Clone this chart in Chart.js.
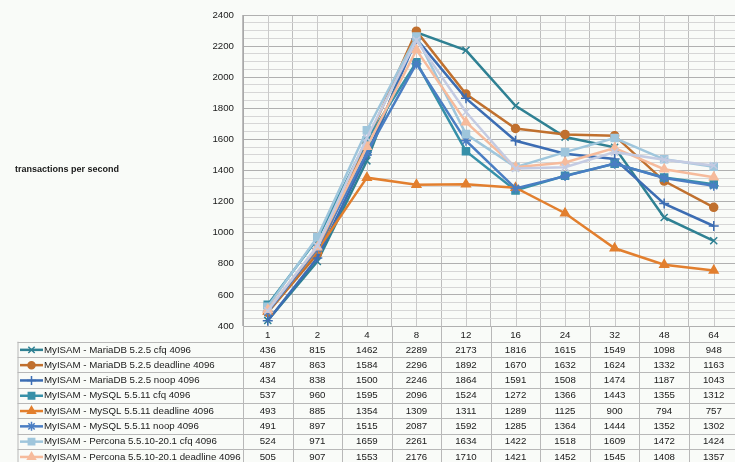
<!DOCTYPE html>
<html>
<head>
<meta charset="utf-8">
<script src="https://cdn.jsdelivr.net/npm/chart.js@4"></script>
<style>
html, body { margin: 0; padding: 0; overflow: hidden; background: #f9fbf8; }
canvas { display: block; }
</style>
</head>
<body>
<canvas id="myChart" width="745" height="462"></canvas>
<script>
var categories = ['1', '2', '4', '8', '12', '16', '24', '32', '48', '64'];

var mariaCfq = [436, 815, 1462, 2289, 2173, 1816, 1615, 1549, 1098, 948];
var mariaDeadline = [487, 863, 1584, 2296, 1892, 1670, 1632, 1624, 1332, 1163];
var mariaNoop = [434, 838, 1500, 2246, 1864, 1591, 1508, 1474, 1187, 1043];
var mysqlCfq = [537, 960, 1595, 2096, 1524, 1272, 1366, 1443, 1355, 1312];
var mysqlDeadline = [493, 885, 1354, 1309, 1311, 1289, 1125, 900, 794, 757];
var mysqlNoop = [491, 897, 1515, 2087, 1592, 1285, 1364, 1444, 1352, 1302];
var perconaCfq = [524, 971, 1659, 2261, 1634, 1422, 1518, 1609, 1472, 1424];
var perconaDeadline = [505, 907, 1553, 2176, 1710, 1421, 1452, 1545, 1408, 1357];
// 9th row of the table is cut off in the picture, values estimated from the plot
var perconaNoop = [498, 915, 1610, 2238, 1776, 1413, 1421, 1518, 1469, 1432];

var seriesNames = [
    'MyISAM - MariaDB 5.2.5 cfq 4096',
    'MyISAM - MariaDB 5.2.5 deadline 4096',
    'MyISAM - MariaDB 5.2.5 noop 4096',
    'MyISAM - MySQL 5.5.11 cfq 4096',
    'MyISAM - MySQL 5.5.11 deadline 4096',
    'MyISAM - MySQL 5.5.11 noop 4096',
    'MyISAM - Percona 5.5.10-20.1 cfq 4096',
    'MyISAM - Percona 5.5.10-20.1 deadline 4096',
    'MyISAM - Percona 5.5.10-20.1 noop 4096'
];
var seriesValues = [mariaCfq, mariaDeadline, mariaNoop, mysqlCfq, mysqlDeadline, mysqlNoop, perconaCfq, perconaDeadline, perconaNoop];
var seriesColors = ['#2f8193', '#c0702e', '#3c6db3', '#3690a8', '#e27f2e', '#4a7ec3', '#9fc6dc', '#f6bb9c', '#c4cbe2'];
var seriesMarkers = ['crossRot', 'circle', 'cross', 'rect', 'triangle', 'star', 'rect', 'triangle', 'crossRot'];

var yTicks = [400, 600, 800, 1000, 1200, 1400, 1600, 1800, 2000, 2200, 2400];

var FONT = '"Liberation Sans", Arial, sans-serif';

function markerRadius(style) {
    if (style === 'circle') return 4;
    return 5;
}

var datasets = [];
for (var i = 0; i < seriesNames.length; i++) {
    datasets.push({
        label: seriesNames[i],
        data: seriesValues[i],
        borderColor: seriesColors[i],
        backgroundColor: seriesColors[i],
        pointBackgroundColor: seriesColors[i],
        pointBorderColor: seriesColors[i],
        pointStyle: seriesMarkers[i],
        pointRadius: markerRadius(seriesMarkers[i]),
        pointBorderWidth: 1.5,
        borderWidth: 2.5,
        tension: 0,
        fill: false,
        order: -i   // later series on top, like excel
    });
}

// thin lines at category centres + axis title + data table under the plot
var tablePlugin = {
    id: 'tablePlugin',
    beforeDatasetsDraw: function (chart) {
        var c = chart.ctx, a = chart.chartArea, x = chart.scales.x;
        c.save();
        c.strokeStyle = '#cacaca';
        c.lineWidth = 1;
        for (var i = 0; i < categories.length; i++) {
            var px = Math.round(x.getPixelForValue(i)) + 0.5;
            c.beginPath();
            c.moveTo(px, a.top);
            c.lineTo(px, a.bottom);
            c.stroke();
        }
        c.restore();
    },
    afterDraw: function (chart) {
        var c = chart.ctx, a = chart.chartArea, x = chart.scales.x;
        var colW = (a.right - a.left) / categories.length;
        var top = 341.7, rowH = 15.3, left = 17.5;
        var nRows = seriesNames.length;
        c.save();

        // axis title
        c.fillStyle = '#1a1a1a';
        c.font = 'bold 9px ' + FONT;
        c.textAlign = 'left';
        c.textBaseline = 'middle';
        c.fillText('transactions per second', 15, 170);

        // grid of the table
        c.lineWidth = 1;
        c.strokeStyle = '#b8b8b8';
        for (var r = 0; r <= nRows; r++) {
            var py = Math.round(top + r * rowH) + 0.5;
            c.beginPath();
            c.moveTo(left, py);
            c.lineTo(a.right, py);
            c.stroke();
        }
        c.beginPath();
        c.moveTo(left + 0.5, top);
        c.lineTo(left + 0.5, top + nRows * rowH);
        c.stroke();
        for (var k = 0; k <= categories.length; k++) {
            var bx = Math.round(a.left + k * colW) + 0.5;
            c.beginPath();
            c.moveTo(bx, a.bottom);
            c.lineTo(bx, top + nRows * rowH);
            c.stroke();
        }

        // rows
        c.font = '9.7px ' + FONT;
        for (var s = 0; s < nRows; s++) {
            var cy = top + (s + 0.5) * rowH + 0.5;
            c.strokeStyle = seriesColors[s];
            c.fillStyle = seriesColors[s];
            c.lineWidth = 2.5;
            c.beginPath();
            c.moveTo(20, cy);
            c.lineTo(43, cy);
            c.stroke();
            c.lineWidth = 1.5;
            Chart.helpers.drawPoint(c, {
                pointStyle: seriesMarkers[s],
                radius: markerRadius(seriesMarkers[s]) - 0.5,
                rotation: 0,
                borderWidth: 1.5
            }, 31.5, cy);

            c.fillStyle = '#1a1a1a';
            c.textAlign = 'left';
            c.fillText(seriesNames[s], 44, cy);
            c.textAlign = 'center';
            for (var j = 0; j < categories.length; j++) {
                c.fillText(String(seriesValues[s][j]), x.getPixelForValue(j), cy);
            }
        }
        c.restore();
    }
};

var ctx = document.getElementById('myChart').getContext('2d');
var myChart = new Chart(ctx, {
    type: 'line',
    data: {
        labels: categories,
        datasets: datasets
    },
    plugins: [tablePlugin],
    options: {
        responsive: false,
        animation: false,
        layout: { padding: { top: 15, right: 2, left: 0, bottom: 0 } },
        plugins: {
            legend: { display: false },
            tooltip: { enabled: false }
        },
        scales: {
            x: {
                offset: true,
                afterFit: function (scale) { scale.height = 136; },
                grid: {
                    offset: true,
                    color: '#bdbdbd',
                    drawTicks: false
                },
                border: { display: false },
                ticks: {
                    color: '#1a1a1a',
                    padding: 4,
                    maxRotation: 0,
                    font: { family: FONT, size: 9.7 }
                }
            },
            y: {
                min: 400,
                max: 2400,
                afterFit: function (scale) { scale.width = 243; },
                grid: {
                    drawTicks: false,
                    color: function (c) {
                        return c.tick && c.tick.value % 200 === 0 ? '#b0b0b0' : '#d6d6d6';
                    }
                },
                border: { color: '#a8a8a8' },
                ticks: {
                    stepSize: 50,
                    autoSkip: false,
                    maxTicksLimit: 100,
                    padding: 9,
                    color: '#1a1a1a',
                    font: { family: FONT, size: 9.7 },
                    callback: function (v) {
                        return yTicks.indexOf(v) >= 0 ? String(v) : '';
                    }
                }
            }
        }
    }
});
</script>
</body>
</html>
